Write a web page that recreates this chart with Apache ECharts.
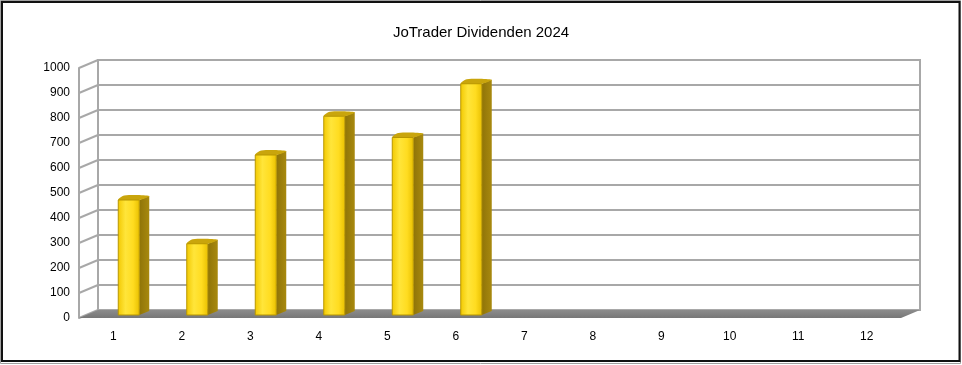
<!DOCTYPE html>
<html>
<head>
<meta charset="utf-8">
<script src="https://cdn.jsdelivr.net/npm/echarts@6/dist/echarts.min.js"></script>
<style>
html,body{margin:0;padding:0;background:#fff;}
#c{width:962px;height:365px;}
</style>
</head>
<body>
<div id="c"></div>
<script>
// ---- data ----
var categories = ['1','2','3','4','5','6','7','8','9','10','11','12'];
var dividends = [460, 285, 640, 795, 710, 925, null, null, null, null, null, null];
var yTicks = [0,100,200,300,400,500,600,700,800,900,1000];
var titleText = 'JoTrader Dividenden 2024';

// ---- style constants (3D depth look) ----
var DEPTH_X = 19, DEPTH_Y = -8;      // wall depth offset
var BAR_X0 = 5, BAR_X1 = 26;         // bar front face offset from category centre
var BAR_DX = 10, BAR_DY = -4;        // bar depth
var BAR_BASE = -3;                   // bar bottom shift into floor
var GRID_COLOR = '#a8a8a8';
var FONT = 'Arial, "Liberation Sans", sans-serif';

var chart = echarts.init(document.getElementById('c'), null, {renderer:'canvas'});

function floorItem(params, api){
  var cs = params.coordSys;
  var x0 = cs.x, x1 = cs.x + cs.width, y = cs.y + cs.height;
  return {
    type:'polygon',
    shape:{points:[[x0,y],[x1,y],[x1+DEPTH_X,y+DEPTH_Y],[x0+DEPTH_X,y+DEPTH_Y]]},
    style:{fill:new echarts.graphic.LinearGradient(0,0,0,1,[{offset:0,color:'#8c8c8c'},{offset:1,color:'#777777'}])},
    silent:true
  };
}

function wallItem(params, api){
  var cs = params.coordSys;
  var p = api.coord([0, api.value(0)]);
  var x0 = cs.x, y = p[1];
  return {
    type:'line',
    shape:{x1:x0, y1:y, x2:x0+DEPTH_X, y2:y+DEPTH_Y},
    style:{stroke:GRID_COLOR, lineWidth:2},
    silent:true
  };
}

function barItem(params, api){
  var v = api.value(1);
  if (v == null || isNaN(v) || v <= 0) return null;
  var base = api.coord([api.value(0), 0]);
  var top = api.coord([api.value(0), v]);
  var xl = base[0] + BAR_X0, xr = base[0] + BAR_X1;
  var yb = base[1] + BAR_BASE, yt = top[1] + BAR_BASE;
  var front = new echarts.graphic.LinearGradient(0,0,1,0,[
    {offset:0,color:'#f2c800'},{offset:0.35,color:'#ffe53a'},{offset:0.7,color:'#ffdc20'},{offset:1,color:'#e8bf00'}]);
  return {
    type:'group',
    children:[
      {type:'polygon',
       shape:{points:[[xr,yt],[xr+BAR_DX,yt+BAR_DY],[xr+BAR_DX,yb+BAR_DY],[xr,yb]]},
       style:{fill:new echarts.graphic.LinearGradient(0,0,1,0,[{offset:0,color:'#8f7408'},{offset:1,color:'#a8890e'}])}},
      {type:'polygon',
       shape:{points:[[xl,yt],[xl+BAR_DX*0.6,yt+BAR_DY-0.5],[xr+BAR_DX,yt+BAR_DY],[xr,yt]], smooth:0.3},
       style:{fill:'#c9a50c'}},
      {type:'rect',
       shape:{x:xl,y:yt,width:xr-xl,height:yb-yt},
       style:{fill:front, stroke:'#b89600', lineWidth:1}}
    ]
  };
}

var barData = dividends.map(function(v,i){ return [i, v]; });
var tickData = yTicks.map(function(t){ return [t]; });

var option = {
  backgroundColor:'#ffffff',
  animation:false,
  title:{
    text:titleText, left:'center', top:20,
    textStyle:{fontFamily:FONT, fontSize:15, fontWeight:'normal', color:'#000'}
  },
  graphic:[
    {type:'rect', shape:{x:0.5,y:0.5,width:960,height:363}, style:{fill:null, stroke:'#a0a0a0', lineWidth:1}, z:100},
    {type:'rect', shape:{x:2,y:2,width:957.5,height:359}, style:{fill:null, stroke:'#111', lineWidth:2}, z:100}
  ],
  grid:[
    // back wall
    {left:98, top:60, width:822, height:250, show:true, borderColor:GRID_COLOR, borderWidth:2, backgroundColor:'transparent'},
    // front plane
    {left:79, top:68, width:822, height:250, show:false}
  ],
  xAxis:[
    {gridIndex:0, type:'category', data:categories, show:false},
    {gridIndex:1, type:'category', data:categories,
     axisLine:{show:false}, axisTick:{show:false},
     axisLabel:{fontFamily:FONT, fontSize:12, color:'#000', margin:13}}
  ],
  yAxis:[
    {gridIndex:0, type:'value', min:0, max:1000, interval:100,
     axisLine:{show:false}, axisTick:{show:false}, axisLabel:{show:false},
     splitLine:{show:true, lineStyle:{color:GRID_COLOR, width:2}}},
    {gridIndex:1, type:'value', min:0, max:1000, interval:100,
     axisLine:{show:true, lineStyle:{color:GRID_COLOR, width:2}}, axisTick:{show:false},
     axisLabel:{fontFamily:FONT, fontSize:12, color:'#000', margin:9,
                formatter:function(v){ return String(v); }},
     splitLine:{show:false}}
  ],
  series:[
    {type:'custom', name:'wall', xAxisIndex:1, yAxisIndex:1, renderItem:wallItem,
     data:tickData, encode:{y:0}, z:1, silent:true},
    {type:'custom', name:'floor', xAxisIndex:1, yAxisIndex:1, renderItem:floorItem,
     data:[[0,0]], z:2, silent:true},
    {type:'custom', name:'Dividenden', xAxisIndex:1, yAxisIndex:1, renderItem:barItem,
     data:barData, encode:{x:0,y:1}, z:3}
  ]
};
chart.setOption(option);
</script>
</body>
</html>
